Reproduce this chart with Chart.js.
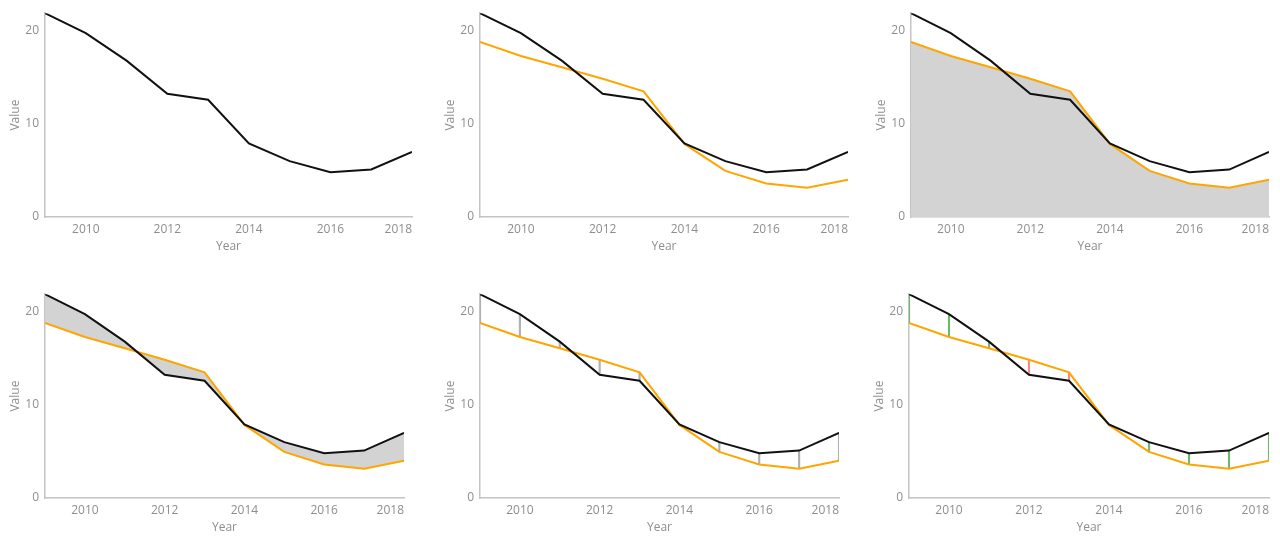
<!DOCTYPE html>
<html>
<head>
<meta charset="utf-8">
<script src="https://cdn.jsdelivr.net/npm/chart.js@4"></script>
<style>
  html, body { margin: 0; padding: 0; background: #fff; width: 1280px; height: 540px; overflow: hidden; }
  .panel { position: absolute; height: 260px; }
</style>
</head>
<body>
<div class="panel" style="left:0px;top:0px;width:427px"><canvas id="c1"></canvas></div>
<div class="panel" style="left:435px;top:0px;width:428px"><canvas id="c2"></canvas></div>
<div class="panel" style="left:866px;top:0px;width:414px"><canvas id="c3"></canvas></div>
<div class="panel" style="left:0px;top:281px;width:419px"><canvas id="c4"></canvas></div>
<div class="panel" style="left:435px;top:281px;width:419px"><canvas id="c5"></canvas></div>
<div class="panel" style="left:864px;top:281px;width:416px"><canvas id="c6"></canvas></div>
<script>
const years = [2009, 2010, 2011, 2012, 2013, 2014, 2015, 2016, 2017, 2018];
const actual = [21.9, 19.75, 16.8, 13.25, 12.6, 7.9, 6.0, 4.8, 5.1, 7.0];
const forecast = [18.8, 17.3, 16.1, 14.85, 13.5, 7.85, 4.95, 3.6, 3.15, 4.0];
const xTicks = [2010, 2012, 2014, 2016, 2018];
const yTicks = [0, 10, 20];

const FONT = { family: "'Open Sans', 'Noto Sans', sans-serif", size: 12 };
const TEXT = '#8e8e8e';
const AXIS = '#c4c4c4';
const GREY_FILL = '#d3d3d3';
const yMax = Math.max(...actual, ...forecast);

function points(vals) {
  return years.map((x, i) => ({ x, y: vals[i] }));
}

function lineDs(vals, color, extra) {
  return Object.assign({
    type: 'line',
    data: points(vals),
    borderColor: color,
    borderWidth: 2,
    pointRadius: 0,
    tension: 0,
    fill: false
  }, extra || {});
}

function dropDs(colorFn) {
  return {
    type: 'bar',
    data: years.map((x, i) => ({ x, y: [forecast[i], actual[i]] })),
    backgroundColor: colorFn,
    borderWidth: 0,
    barThickness: 1.5,
    order: 5
  };
}

function makeChart(id, datasets, rightPad) {
  new Chart(document.getElementById(id), {
    type: 'line',
    data: { datasets },
    options: {
      responsive: true,
      maintainAspectRatio: false,
      animation: false,
      layout: { padding: { top: 12, right: rightPad, left: 0, bottom: 0 } },
      plugins: {
        legend: { display: false },
        tooltip: { enabled: false },
        filler: { drawTime: 'beforeDatasetsDraw' }
      },
      scales: {
        x: {
          type: 'linear',
          min: 2009,
          max: 2018,
          offset: false,
          grid: { display: false, drawTicks: false },
          border: { display: true, color: AXIS, width: 1.5 },
          ticks: {
            autoSkip: false,
            maxRotation: 0,
            align: 'inner',
            padding: 5,
            color: TEXT,
            font: FONT,
            callback: v => (xTicks.includes(v) ? String(v) : '')
          },
          afterBuildTicks: s => { s.ticks = [2009, ...xTicks].map(v => ({ value: v })); },
          afterFit: s => { s.height = 43; },
          title: { display: true, text: 'Year', color: TEXT, font: FONT, padding: { top: 0, bottom: 6 } }
        },
        y: {
          type: 'linear',
          min: 0,
          max: yMax,
          grid: { display: false, drawTicks: false },
          border: { display: true, color: AXIS, width: 1.5 },
          ticks: { padding: 6, color: TEXT, font: FONT },
          afterBuildTicks: s => { s.ticks = yTicks.map(v => ({ value: v })); },
          afterFit: s => { s.width = 45; },
          title: { display: true, text: 'Value', color: TEXT, font: FONT, padding: { top: 8, bottom: 0 } }
        }
      }
    }
  });
}

// 1: actual only
makeChart('c1', [lineDs(actual, '#111111')], 15);

// 2: actual vs forecast
makeChart('c2', [
  lineDs(actual, '#111111', { order: 1 }),
  lineDs(forecast, '#FFA500', { order: 2 })
], 15);

// 3: area under forecast
makeChart('c3', [
  lineDs(actual, '#111111', { order: 1 }),
  lineDs(forecast, '#FFA500', { order: 2, fill: 'origin', backgroundColor: GREY_FILL })
], 11);

// 4: area between the two lines
makeChart('c4', [
  lineDs(actual, '#111111', { order: 1, fill: { target: '+1', above: GREY_FILL, below: GREY_FILL } }),
  lineDs(forecast, '#FFA500', { order: 2 })
], 15);

// 5: grey drop lines
makeChart('c5', [
  lineDs(actual, '#111111', { order: 1 }),
  lineDs(forecast, '#FFA500', { order: 2 }),
  dropDs('#b0b0b0')
], 15);

// 6: drop lines coloured by sign
makeChart('c6', [
  lineDs(actual, '#111111', { order: 1 }),
  lineDs(forecast, '#FFA500', { order: 2 }),
  dropDs(ctx => {
    const i = ctx.dataIndex;
    return actual[i] >= forecast[i] ? '#6cb86c' : '#f28a8a';
  })
], 11);
</script>
</body>
</html>
